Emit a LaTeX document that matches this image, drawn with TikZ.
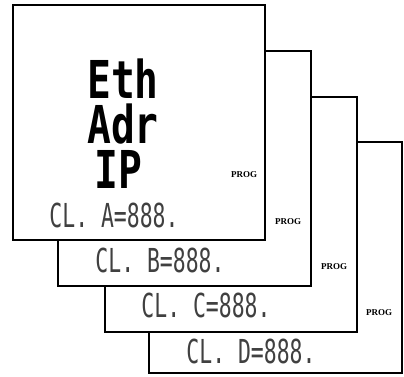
\documentclass[tikz,border=0pt]{standalone}
\usepackage{fontspec}
\newfontfamily\segbig{DejaVu Sans Mono}
\newfontfamily\segsmall[FakeStretch=0.65]{DejaVu Sans Mono}
\newfontfamily\progfont{Liberation Serif}
\newcommand{\bigseg}[1]{\scalebox{1.1}[1.45]{\segbig\bfseries\fontsize{36}{36}\selectfont #1}}
\tikzset{
  panel/.style={draw=black, fill=white, line width=1.3pt},
  bigtxt/.style={anchor=base west, inner sep=0pt},
  cltxt/.style={anchor=base, inner sep=0pt, text height=24pt, text depth=0pt, text=black!75, font=\segsmall\fontsize{33}{33}\selectfont},
  progtxt/.style={inner sep=0pt, font=\progfont\bfseries\fontsize{9}{9}\selectfont}
}
\begin{document}
\begin{tikzpicture}[x=1pt,y=-1pt]
\useasboundingbox (0,0) rectangle (404,376);
% panels back to front
\draw[panel] (149,142) rectangle (402,373);
\node[progtxt] (prog4) at (379,313) {PROG};
\node[cltxt] (cl4) at (251,363) {CL. D=888.};
\draw[panel] (105,97) rectangle (357,332);
\node[progtxt] (prog3) at (334,267) {PROG};
\node[cltxt] (cl3) at (206,317) {CL. C=888.};
\draw[panel] (58,51) rectangle (311,286);
\node[progtxt] (prog2) at (288,222) {PROG};
\node[cltxt] (cl2) at (160,272) {CL. B=888.};
\draw[panel] (13,5) rectangle (265,240);
\node[progtxt] (prog1) at (244,175) {PROG};
\node[cltxt] (cl1) at (114,227) {CL. A=888.};
\node[bigtxt] (eth) at (87,98) {\bigseg{Eth}};
\node[bigtxt] (adr) at (87,143) {\bigseg{Adr}};
\node[bigtxt] (ip) at (94,188) {\bigseg{IP}};
\end{tikzpicture}
\end{document}
